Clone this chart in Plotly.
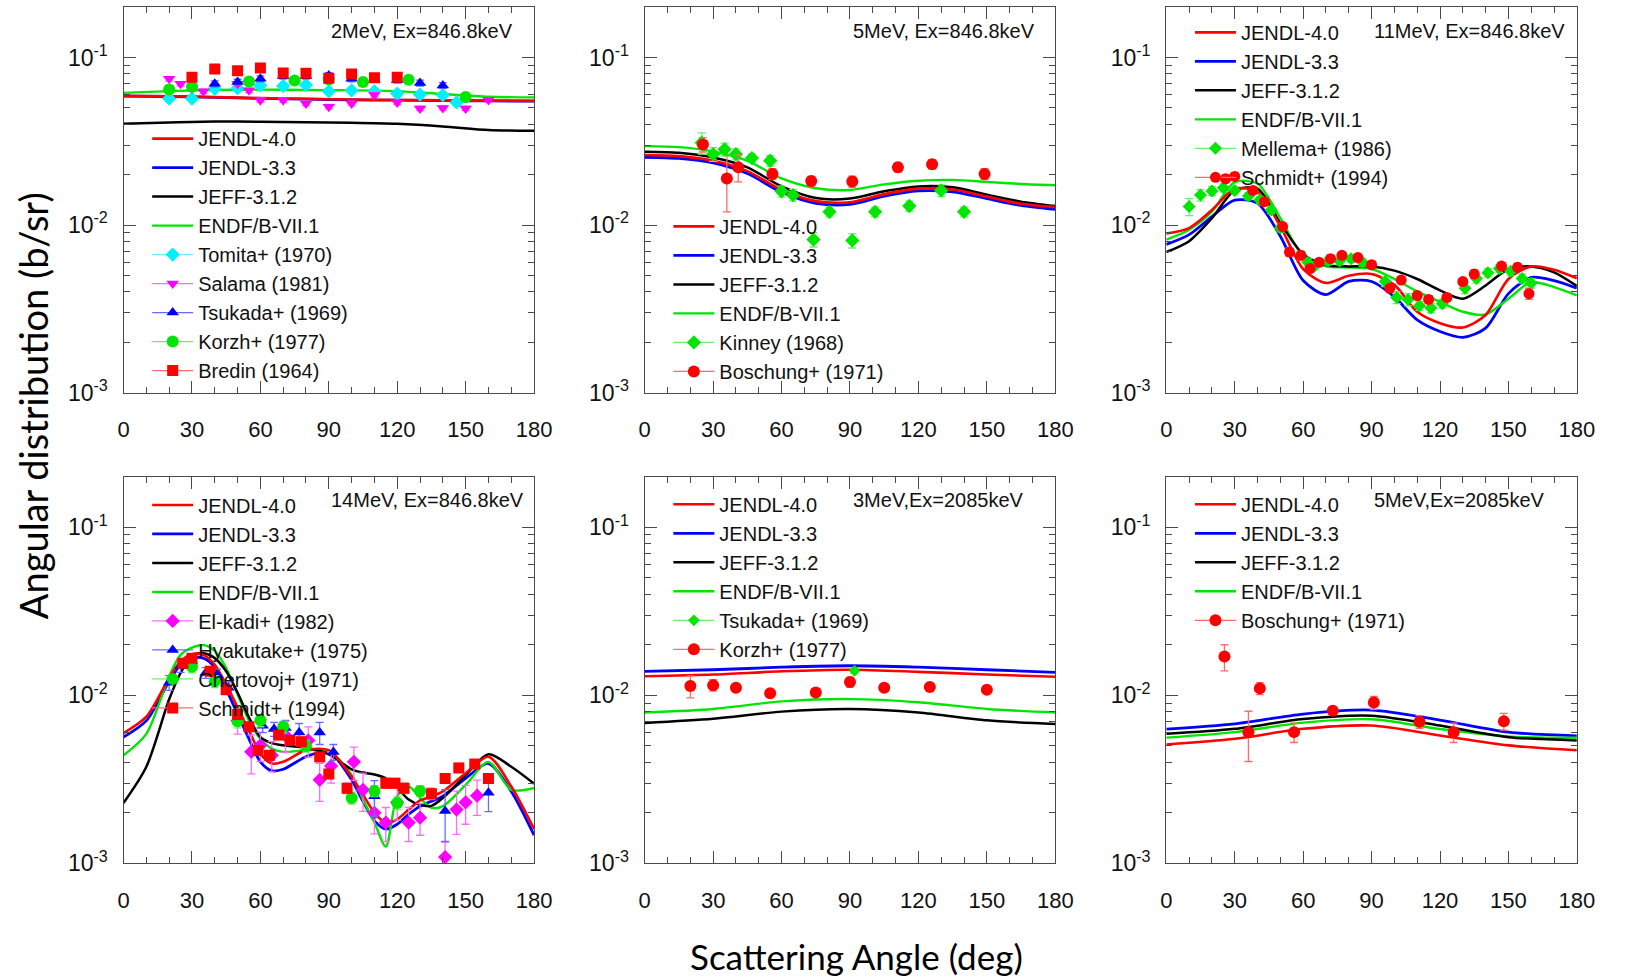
import plotly.graph_objects as go

W, H = 1625, 979

# ---------------- data ----------------
# Panel 1: 2 MeV, Ex=846.8 keV
x_c1 = [0, 20, 40, 60, 80, 100, 120, 140, 160, 180]
j40_1 = [0.0590, 0.0587, 0.0580, 0.0572, 0.0566, 0.0561, 0.0558, 0.0555, 0.0553, 0.0551]
j33_1 = [0.0588, 0.0585, 0.0578, 0.0570, 0.0564, 0.0559, 0.0556, 0.0553, 0.0551, 0.0549]
jeff_1 = [0.0403, 0.0410, 0.0415, 0.0414, 0.0411, 0.0408, 0.0402, 0.0388, 0.0369, 0.0365]
endf_1 = [0.0615, 0.0630, 0.0640, 0.0643, 0.0640, 0.0637, 0.0630, 0.0605, 0.0583, 0.0578]
tomita_x = [20, 30, 40, 50, 60, 70, 80, 90, 100, 110, 120, 130, 140, 146]
tomita_y = [0.0569, 0.0569, 0.0651, 0.0656, 0.0681, 0.0676, 0.0686, 0.0628, 0.0636, 0.0628, 0.0609, 0.0601, 0.0597, 0.0539]
salama_x = [20, 25, 30, 35, 50, 55, 60, 70, 80, 90, 100, 110, 120, 130, 140, 150, 160]
salama_y = [0.0746, 0.0697, 0.0656, 0.0628, 0.0697, 0.0637, 0.0556, 0.0556, 0.0532, 0.0509, 0.0532, 0.0597, 0.0539, 0.0497, 0.0500, 0.0497, 0.0557]
tsukada_x = [40, 50, 60, 70, 80, 90, 100, 110, 120, 130, 140]
tsukada_y = [0.0697, 0.0713, 0.0746, 0.0773, 0.0773, 0.0780, 0.0746, 0.0740, 0.0732, 0.0704, 0.0681]
korzh1_x = [20, 30, 55, 75, 90, 105, 125, 150]
korzh1_y = [0.0645, 0.0670, 0.0719, 0.0728, 0.0739, 0.0713, 0.0736, 0.0582]
bredin_x = [30, 40, 50, 60, 70, 80, 90, 100, 110, 120]
bredin_y = [0.0763, 0.0854, 0.0834, 0.0866, 0.0809, 0.0805, 0.0753, 0.0798, 0.0757, 0.0763]

# Panel 2: 5 MeV, Ex=846.8 keV
x_c2 = [0, 15, 30, 45, 60, 75, 90, 105, 120, 135, 150, 165, 180]
j40_2 = [0.0262, 0.0258, 0.0242, 0.0210, 0.0162, 0.0139, 0.0137, 0.0153, 0.0165, 0.0163, 0.0148, 0.0134, 0.0128]
j33_2 = [0.0254, 0.0250, 0.0235, 0.0203, 0.0157, 0.0135, 0.0133, 0.0149, 0.0160, 0.0158, 0.0144, 0.0131, 0.0124]
jeff_2 = [0.0274, 0.0270, 0.0253, 0.0221, 0.0170, 0.0145, 0.0144, 0.0159, 0.0170, 0.0168, 0.0152, 0.0138, 0.0130]
endf_2 = [0.0296, 0.0292, 0.0275, 0.0242, 0.0190, 0.0166, 0.0162, 0.0175, 0.0184, 0.0186, 0.0181, 0.0176, 0.0173]
kinney_x = [25, 30, 35, 40, 47, 55, 60, 65, 74, 81, 91, 101, 116, 130, 140]
kinney_y = [0.0310, 0.0265, 0.0283, 0.0265, 0.0251, 0.0242, 0.0159, 0.0151, 0.0082, 0.0120, 0.0081, 0.0120, 0.0130, 0.0161, 0.0120]
kinney_err = [0.0045, 0.0025, 0.0025, 0.0020, 0.0015, 0.0018, 0.0012, 0.0012, 0.0008, 0.0008, 0.0008, 0.0008, 0.0009, 0.0013, 0.0008]
bosch2_x = [25.5, 36, 41, 56, 73, 91, 111, 126, 149]
bosch2_y = [0.0303, 0.0190, 0.0221, 0.0202, 0.0183, 0.0182, 0.0221, 0.0231, 0.0202]
bosch2_err = [0.0030, 0.0070, 0.0040, 0.0015, 0.0012, 0.0014, 0.0014, 0.0015, 0.0015]

# Panel 3: 11 MeV, Ex=846.8 keV
x_c3 = [0, 10, 20, 30, 40, 50, 60, 70, 80, 90, 100, 110, 120, 130, 140, 150, 160, 170, 180]
j40_3 = [0.00890, 0.00960, 0.01230, 0.01649, 0.01576, 0.00982, 0.00547, 0.00452, 0.00499, 0.00511, 0.00440, 0.00304, 0.00260, 0.00245, 0.00291, 0.00477, 0.00567, 0.00542, 0.00482]
j33_3 = [0.00766, 0.00877, 0.01124, 0.01409, 0.01347, 0.00858, 0.00467, 0.00385, 0.00461, 0.00461, 0.00373, 0.00272, 0.00232, 0.00214, 0.00243, 0.00390, 0.00488, 0.00467, 0.00421]
jeff_3 = [0.00691, 0.00802, 0.01100, 0.01612, 0.01649, 0.01027, 0.00670, 0.00577, 0.00567, 0.00567, 0.00535, 0.00477, 0.00408, 0.00364, 0.00436, 0.00547, 0.00567, 0.00523, 0.00433]
endf_3 = [0.00820, 0.00939, 0.01203, 0.01804, 0.01764, 0.01100, 0.00655, 0.00567, 0.00559, 0.00547, 0.00477, 0.00402, 0.00348, 0.00304, 0.00293, 0.00364, 0.00457, 0.00427, 0.00381]
mellema_x = [10, 15, 20, 25, 30, 36, 41, 46, 50, 62, 65, 71, 76, 81, 86, 96, 101, 106, 111, 116, 121, 131, 136, 141, 146, 151, 156, 160]
mellema_y = [0.0129, 0.0151, 0.0160, 0.0167, 0.0161, 0.0149, 0.0141, 0.0123, 0.0096, 0.0060, 0.0057, 0.0061, 0.0061, 0.0063, 0.0060, 0.0046, 0.0037, 0.0036, 0.0033, 0.0032, 0.0034, 0.0042, 0.0048, 0.0052, 0.0055, 0.0053, 0.0048, 0.0045]
mellema_err = [0.0015, 0.0012, 0.0010, 0.0009, 0.0008, 0.0007, 0.0007, 0.0006, 0.0005, 0.0003, 0.0003, 0.0003, 0.0003, 0.0003, 0.0003, 0.0003, 0.0003, 0.0003, 0.0002, 0.0002, 0.0002, 0.0003, 0.0003, 0.0003, 0.0003, 0.0003, 0.0003, 0.0003]
schmidt3_x = [26, 30, 38, 43, 51, 54, 59, 63, 67, 72, 77, 84, 90, 98, 103, 110, 115, 123, 130, 135, 147, 154, 159]
schmidt3_y = [0.0189, 0.0195, 0.0161, 0.0138, 0.0098, 0.0069, 0.0066, 0.0055, 0.0060, 0.0063, 0.0066, 0.0064, 0.0058, 0.0042, 0.0047, 0.0038, 0.0036, 0.0037, 0.0046, 0.0051, 0.0057, 0.0056, 0.0039]
schmidt3_err = [0.0010, 0.0010, 0.0008, 0.0007, 0.0005, 0.0004, 0.0004, 0.0003, 0.0003, 0.0003, 0.0003, 0.0003, 0.0003, 0.0002, 0.0002, 0.0002, 0.0002, 0.0002, 0.0002, 0.0003, 0.0003, 0.0003, 0.0003]

# Panel 4: 14 MeV, Ex=846.8 keV
x_c4 = [0, 10, 20, 25, 30, 35, 40, 45, 50, 55, 60, 65, 70, 80, 90, 100, 105, 110, 115, 120, 125, 130, 135, 140, 150, 160, 170, 180]
j40_4 = [0.00596, 0.00746, 0.0127, 0.0159, 0.01756, 0.0174, 0.0152, 0.0116, 0.00847, 0.00617, 0.0045, 0.00393, 0.00402, 0.00471, 0.00471, 0.00328, 0.00256, 0.0020, 0.00175, 0.00183, 0.00209, 0.00237, 0.0025, 0.00268, 0.00344, 0.00431, 0.00287, 0.0016]
j33_4 = [0.00564, 0.00707, 0.01214, 0.0152, 0.01665, 0.01665, 0.01467, 0.01084, 0.00774, 0.00551, 0.00402, 0.00356, 0.00363, 0.00431, 0.00461, 0.00314, 0.00234, 0.00179, 0.0016, 0.00171, 0.00196, 0.00219, 0.00234, 0.00251, 0.00321, 0.00393, 0.00268, 0.00147]
jeff_4 = [0.00229, 0.00376, 0.00947, 0.01358, 0.01726, 0.0178, 0.01665, 0.0139, 0.01037, 0.00739, 0.00564, 0.0052, 0.00504, 0.00488, 0.00446, 0.00363, 0.00347, 0.00338, 0.00321, 0.00281, 0.0024, 0.00223, 0.0022, 0.00245, 0.00336, 0.00446, 0.00376, 0.00298]
endf_4 = [0.0044, 0.0059, 0.01299, 0.0174, 0.01922, 0.01993, 0.01837, 0.01454, 0.01014, 0.00707, 0.00551, 0.00482, 0.00461, 0.00471, 0.00467, 0.00336, 0.0024, 0.00175, 0.00126, 0.00251, 0.00287, 0.00245, 0.00214, 0.00219, 0.00293, 0.00402, 0.00274, 0.00281]
elkadi_x = [50, 56, 60, 65, 71, 81, 86, 91, 101, 105, 110, 115, 120, 125, 130, 141, 146, 150, 155]
elkadi_y = [0.00707, 0.00461, 0.00504, 0.0044, 0.00577, 0.00539, 0.00314, 0.0038, 0.00402, 0.00274, 0.0020, 0.00175, 0.00231, 0.00175, 0.00187, 0.00109, 0.00209, 0.00231, 0.00253]
elkadi_err = [0.0012, 0.0012, 0.0010, 0.0009, 0.0012, 0.0011, 0.0008, 0.0008, 0.0009, 0.0007, 0.0005, 0.0004, 0.0005, 0.0004, 0.0004, 0.00025, 0.0006, 0.0006, 0.0006]
hyak_x = [20, 25, 30, 36, 41, 46, 61, 66, 71, 77, 86, 92, 110, 141, 160]
hyak_y = [0.0119, 0.0149, 0.0159, 0.0136, 0.0133, 0.0111, 0.0066, 0.0063, 0.0064, 0.0060, 0.0060, 0.0046, 0.00251, 0.00205, 0.00263]
hyak_err = [0.0012, 0.0012, 0.0012, 0.0010, 0.0010, 0.0009, 0.0006, 0.0006, 0.0007, 0.0008, 0.0009, 0.0005, 0.0006, 0.0007, 0.0006]
chert_x = [30, 40, 50, 60, 70, 80, 100, 110, 120, 130]
chert_y = [0.0148, 0.0121, 0.0070, 0.0071, 0.0065, 0.0050, 0.00245, 0.0027, 0.00229, 0.0027]
chert_err = [0.0012, 0.0010, 0.0006, 0.0006, 0.0005, 0.0004, 0.0002, 0.0002, 0.0002, 0.0002]
schmidt4_x = [26, 30, 38, 45, 50, 55, 59, 64, 68, 73, 78, 86, 90, 98, 115, 119, 123, 135, 141, 147, 154, 160]
schmidt4_y = [0.0155, 0.0166, 0.0139, 0.0108, 0.0077, 0.0065, 0.0047, 0.0044, 0.0058, 0.0054, 0.0053, 0.0043, 0.0034, 0.0028, 0.0030, 0.0030, 0.0028, 0.0026, 0.0032, 0.0037, 0.0039, 0.0032]
schmidt4_err = [0.0008, 0.0008, 0.0007, 0.0005, 0.0004, 0.0003, 0.0003, 0.0002, 0.0003, 0.0003, 0.0003, 0.0002, 0.0002, 0.0002, 0.0002, 0.0002, 0.0002, 0.0002, 0.0002, 0.0002, 0.0002, 0.0002]

# Panel 5: 3 MeV, Ex=2085 keV
x_c5 = [0, 30, 60, 90, 120, 150, 180]
j40_5 = [0.0130, 0.0133, 0.0139, 0.0142, 0.0138, 0.0133, 0.0129]
j33_5 = [0.0139, 0.0142, 0.0147, 0.0150, 0.0147, 0.0142, 0.0137]
jeff_5 = [0.00685, 0.00726, 0.0080, 0.00828, 0.0079, 0.0071, 0.00676]
endf_5 = [0.0079, 0.0083, 0.0092, 0.0095, 0.0091, 0.0083, 0.0079]
tsuk5_x = [92]
tsuk5_y = [0.0140]
tsuk5_err = [0.0005]
korzh5_x = [20, 30, 40, 55, 75, 90, 105, 125, 150]
korzh5_y = [0.01135, 0.0115, 0.0111, 0.0103, 0.0104, 0.0120, 0.0111, 0.0112, 0.0108]
korzh5_err = [0.0017, 0.0009, 0.0004, 0.0004, 0.0004, 0.0008, 0.0004, 0.0004, 0.0004]

# Panel 6: 5 MeV, Ex=2085 keV
x_c6 = [0, 30, 60, 90, 120, 150, 180]
j40_6 = [0.0051, 0.00551, 0.00632, 0.00661, 0.00577, 0.00504, 0.00471]
j33_6 = [0.0063, 0.00676, 0.00774, 0.00817, 0.00713, 0.00604, 0.00574]
jeff_6 = [0.0059, 0.00632, 0.00723, 0.00757, 0.00661, 0.00564, 0.00539]
endf_6 = [0.0056, 0.00604, 0.00688, 0.0072, 0.0063, 0.00569, 0.00559]
bosch6_x = [25.5, 36, 41, 56, 73, 91, 111, 126, 148]
bosch6_y = [0.0170, 0.00604, 0.0110, 0.00604, 0.0081, 0.00906, 0.00697, 0.00604, 0.0070]
bosch6_err = [0.0030, 0.0020, 0.0009, 0.0008, 0.0004, 0.0008, 0.0006, 0.0008, 0.0008]

panel_titles = ["2MeV, Ex=846.8keV", "5MeV, Ex=846.8keV", "11MeV, Ex=846.8keV",
                "14MeV, Ex=846.8keV", "3MeV,Ex=2085keV", "5MeV,Ex=2085keV"]
x_tickvals = [0, 30, 60, 90, 120, 150, 180]
y_tickvals = [0.001, 0.01, 0.1]
y_ticktext = ["10<sup>-3</sup>", "10<sup>-2</sup>", "10<sup>-1</sup>"]
y_minorvals = [k * 10 ** e for e in (-3, -2, -1) for k in range(2, 10)]

# ---------------- styling ----------------
RED, BLUE, BLACK, GREEN = "#FF0000", "#0000FF", "#000000", "#00E600"
CYAN, MAGENTA = "#00F0FF", "#FF00FF"
E_RED, E_BLUE, E_GREEN, E_CYAN, E_MAG = "#FF6A6A", "#6A6AFF", "#6AF06A", "#6AF0FF", "#FF6AFF"
TXT = "Liberation Sans"

panel_left = [119.3, 648.3, 1177.7]
panel_w = 416.7
row_top = [7.3, 483.3]
row_bot = [398.0, 875.0]

fig = go.Figure()


def ax_ids(p):
    s = "" if p == 1 else str(p)
    return "x" + s, "y" + s, "legend" + s


def add_curve(p, x, y, color, name, rank, width=2.6):
    xa, ya, lg = ax_ids(p)
    fig.add_trace(go.Scatter(x=x, y=y, mode="lines", name=name,
                             line=dict(color=color, width=width, shape="spline", smoothing=0.8),
                             xaxis=xa, yaxis=ya, legend=lg, legendrank=rank, hoverinfo="skip"))


def add_exp(p, x, y, err, symbol, color, ecolor, name, rank, size=11, pct=None):
    xa, ya, lg = ax_ids(p)
    if pct is not None:
        ey = dict(type="percent", value=pct, color=ecolor, thickness=1.3, width=4)
    else:
        ey = dict(type="data", array=err, color=ecolor, thickness=1.3, width=4)
    fig.add_trace(go.Scatter(x=x, y=y, mode="markers", name=name, showlegend=False,
                             marker=dict(symbol=symbol, size=size, color=color, line=dict(width=0)),
                             error_y=ey, xaxis=xa, yaxis=ya, hoverinfo="skip"))
    fig.add_trace(go.Scatter(x=[None], y=[None], mode="lines+markers", name=name,
                             marker=dict(symbol=symbol, size=size, color=color, line=dict(width=0)),
                             line=dict(color=ecolor, width=1.3),
                             xaxis=xa, yaxis=ya, legend=lg, legendrank=rank))


def add_models(p, x, j40, j33, jeff, endf):
    add_curve(p, x, j33, BLUE, "JENDL-3.3", 2, 2.8)
    add_curve(p, x, endf, GREEN, "ENDF/B-VII.1", 4, 2.4)
    add_curve(p, x, jeff, BLACK, "JEFF-3.1.2", 3, 2.5)
    add_curve(p, x, j40, RED, "JENDL-4.0", 1, 2.6)


# panel 1
add_models(1, x_c1, j40_1, j33_1, jeff_1, endf_1)
add_exp(1, tomita_x, tomita_y, None, "diamond", CYAN, E_CYAN, "Tomita+ (1970)", 5, 11, pct=3)
add_exp(1, salama_x, salama_y, None, "triangle-down", MAGENTA, E_MAG, "Salama (1981)", 6, 11, pct=3)
add_exp(1, tsukada_x, tsukada_y, None, "triangle-up", BLUE, E_BLUE, "Tsukada+ (1969)", 7, 11, pct=4)
add_exp(1, korzh1_x, korzh1_y, None, "circle", GREEN, E_GREEN, "Korzh+ (1977)", 8, 12, pct=3)
add_exp(1, bredin_x, bredin_y, None, "square", RED, E_RED, "Bredin (1964)", 9, 11, pct=3)
# panel 2
add_models(2, x_c2, j40_2, j33_2, jeff_2, endf_2)
add_exp(2, kinney_x, kinney_y, kinney_err, "diamond", GREEN, E_GREEN, "Kinney (1968)", 5, 11)
add_exp(2, bosch2_x, bosch2_y, bosch2_err, "circle", RED, E_RED, "Boschung+ (1971)", 6, 12)
# panel 3
add_models(3, x_c3, j40_3, j33_3, jeff_3, endf_3)
add_exp(3, mellema_x, mellema_y, mellema_err, "diamond", GREEN, E_GREEN, "Mellema+ (1986)", 5, 10)
add_exp(3, schmidt3_x, schmidt3_y, schmidt3_err, "circle", RED, E_RED, "Schmidt+ (1994)", 6, 11)
# panel 4
add_models(4, x_c4, j40_4, j33_4, jeff_4, endf_4)
add_exp(4, elkadi_x, elkadi_y, elkadi_err, "diamond", MAGENTA, E_MAG, "El-kadi+ (1982)", 5, 11)
add_exp(4, hyak_x, hyak_y, hyak_err, "triangle-up", BLUE, E_BLUE, "Hyakutake+ (1975)", 6, 11)
add_exp(4, chert_x, chert_y, chert_err, "circle", GREEN, E_GREEN, "Chertovoj+ (1971)", 7, 12)
add_exp(4, schmidt4_x, schmidt4_y, schmidt4_err, "square", RED, E_RED, "Schmidt+ (1994)", 8, 11)
# panel 5
add_models(5, x_c5, j40_5, j33_5, jeff_5, endf_5)
add_exp(5, tsuk5_x, tsuk5_y, tsuk5_err, "diamond", GREEN, E_GREEN, "Tsukada+ (1969)", 5, 9)
add_exp(5, korzh5_x, korzh5_y, korzh5_err, "circle", RED, E_RED, "Korzh+ (1977)", 6, 12)
# panel 6
add_models(6, x_c6, j40_6, j33_6, jeff_6, endf_6)
add_exp(6, bosch6_x, bosch6_y, bosch6_err, "circle", RED, E_RED, "Boschung+ (1971)", 5, 12)

# ---------------- layout ----------------
layout = dict(width=W, height=H, margin=dict(l=0, r=0, t=0, b=0),
              paper_bgcolor="white", plot_bgcolor="white", showlegend=True)
annotations = []
AX = "#4a4a4a"
LEG_DX, LEG_DY = 24.0, 17.0
first_item_y = [137.7, 226.7, 30.0, 509.0, 508.3, 508.3]

for p in range(1, 7):
    r, c = (p - 1) // 3, (p - 1) % 3
    s = "" if p == 1 else str(p)
    x0 = panel_left[c]
    xd = [x0 / W, (x0 + panel_w) / W]
    yd = [1 - row_bot[r] / H, 1 - row_top[r] / H]
    layout["xaxis" + s] = dict(domain=xd, anchor="y" + s, range=[0, 180], showgrid=False, zeroline=False,
                               showline=True, linecolor=AX, linewidth=1.3, mirror="ticks",
                               ticks="inside", ticklen=12, tickwidth=1.2, tickcolor=AX,
                               tickmode="array", tickvals=x_tickvals,
                               minor=dict(ticks="inside", ticklen=6, tickwidth=1.2, tickcolor=AX, dtick=10, showgrid=False),
                               tickfont=dict(family=TXT, size=22, color="#111"), ticklabelstandoff=17)
    layout["yaxis" + s] = dict(domain=yd, anchor="x" + s, type="log", range=[-3, -0.7], showgrid=False, zeroline=False,
                               showline=True, linecolor=AX, linewidth=1.3, mirror="ticks",
                               ticks="inside", ticklen=12, tickwidth=1.2, tickcolor=AX,
                               tickmode="array", tickvals=y_tickvals, ticktext=y_ticktext,
                               minor=dict(ticks="inside", ticklen=6, tickwidth=1.2, tickcolor=AX,
                                          tickmode="array", tickvals=y_minorvals, showgrid=False),
                               tickfont=dict(family=TXT, size=23, color="#111"), ticklabelstandoff=10)
    layout["legend" + s] = dict(x=(x0 + LEG_DX) / W, y=1 - (first_item_y[p - 1] - LEG_DY) / H,
                                xanchor="left", yanchor="top", bgcolor="rgba(0,0,0,0)", borderwidth=0,
                                font=dict(family=TXT, size=20, color="#111"), itemwidth=41,
                                tracegroupgap=0, traceorder="normal")
    ty = [31.0, 507.0][r]
    annotations.append(dict(text=panel_titles[p - 1], xref="paper", yref="paper",
                            x=(x0 + 209) / W, y=1 - ty / H, xanchor="left", yanchor="middle",
                            showarrow=False, font=dict(family=TXT, size=20, color="#111")))

annotations.append(dict(text="Scattering Angle (deg)", xref="paper", yref="paper",
                        x=863 / W, y=1 - 969 / H, xanchor="center", yanchor="middle",
                        showarrow=False, font=dict(family="Lato", size=35, color="#000")))
annotations.append(dict(text="Angular distribution (b/sr)", xref="paper", yref="paper",
                        x=27 / W, y=1 - 411 / H, xanchor="center", yanchor="middle", textangle=-90,
                        showarrow=False, font=dict(family="Lato", size=38, color="#000")))
layout["annotations"] = annotations
fig.update_layout(**layout)

fig.write_html("out.html")
